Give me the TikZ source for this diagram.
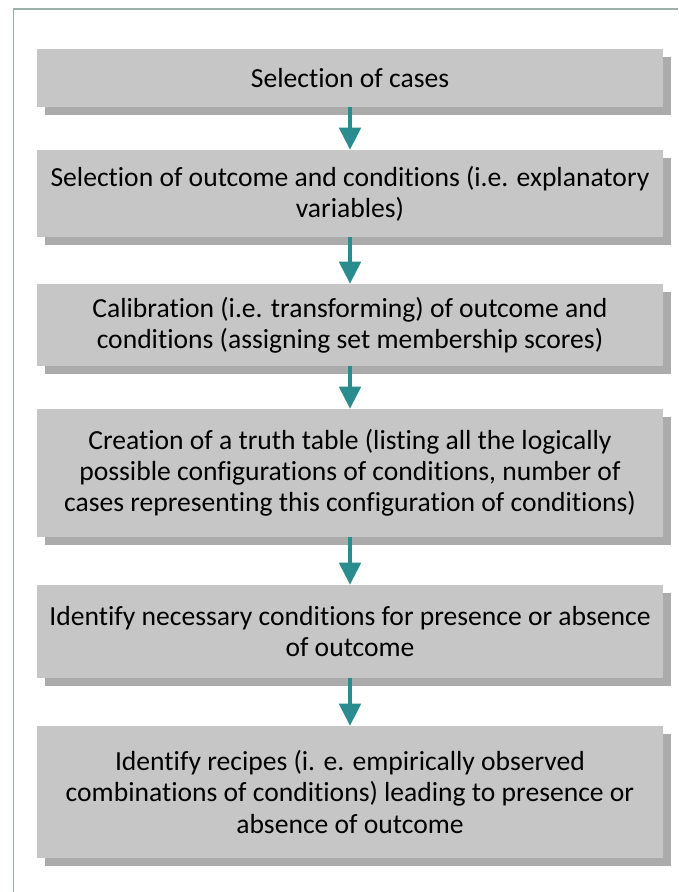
\documentclass[tikz,border=0pt]{standalone}
\usepackage{fontspec}
\setmainfont{Carlito}[Ligatures=NoCommon]
\usetikzlibrary{arrows.meta,shadows}
\definecolor{boxgray}{HTML}{C6C6C6}
\definecolor{shadowgray}{HTML}{ABABAB}
\definecolor{arrowteal}{HTML}{2A8C8F}
\definecolor{framegray}{HTML}{9DAEAB}

\begin{document}
\begin{tikzpicture}[
    x=0.75pt, y=-0.75pt,
    stepbox/.style={rectangle, fill=boxgray, minimum width=469.5pt, inner sep=0pt,
        align=center, font=\fontsize{20.7}{23.4}\selectfont,
        drop shadow={shadow xshift=6pt, shadow yshift=-6pt, fill=shadowgray, opacity=1}},
    flow/.style={arrowteal, line width=3pt, -{Triangle[width=16pt, length=16.5pt]}}
]
    \useasboundingbox (0,0) rectangle (678,892);
    % frame
    \draw[framegray, line width=1pt] (13.5,892) -- (13.5,9) -- (678,9);

    % steps
    \node[stepbox, minimum height=43.5pt] (s1) at (350,78) {Selection of cases};
    \node[stepbox, minimum height=65.25pt] (s2) at (350,193.5) {Selection of outcome and conditions (i.e. explanatory\\ variables)};
    \node[stepbox, minimum height=61.5pt] (s3) at (350,325) {Calibration (i.e. transforming) of outcome and\\ conditions (assigning set membership scores)};
    \node[stepbox, minimum height=96pt] (s4) at (350,473) {Creation of a truth table (listing all the logically\\ possible configurations of conditions, number of\\ cases representing this configuration of conditions)};
    \node[stepbox, minimum height=69.75pt] (s5) at (350,631.5) {Identify necessary conditions for presence or absence\\ of outcome};
    \node[stepbox, minimum height=99pt] (s6) at (350,792) {Identify recipes (i. e. empirically observed\\ combinations of conditions) leading to presence or\\ absence of outcome};

    % arrows
    \foreach \a/\b in {s1/s2, s2/s3, s3/s4, s4/s5, s5/s6}
        \draw[flow] (\a.south) -- (\b.north);
\end{tikzpicture}
\end{document}
